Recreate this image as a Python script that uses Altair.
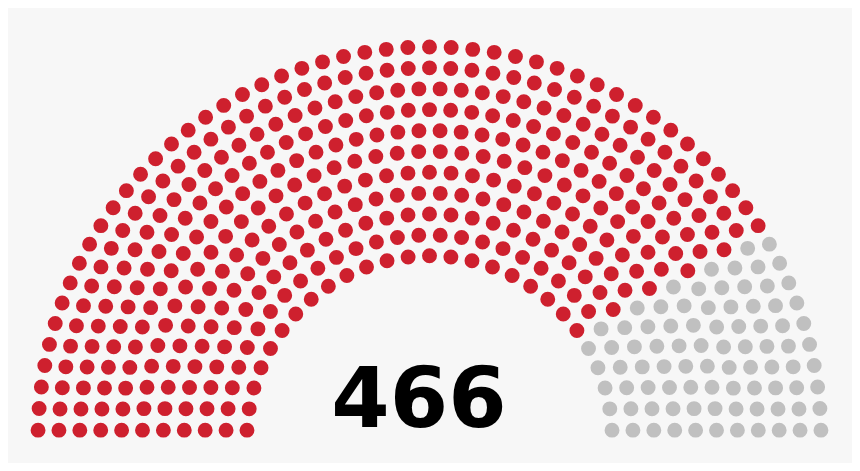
import math
import altair as alt
import pandas as pd

# Data: seats per party
parties = ["Majority", "Others"]
seats = [381, 85]
colors = ["#CE202E", "#C0C0C0"]
total_label = "466"

# Seat layout (parliament arch, 11 rows)
total = sum(seats)
Totals = [3, 15, 33, 61, 95, 138, 189, 247, 313, 388, 469, 559, 657]
rows = next(i + 1 for i, t in enumerate(Totals) if t >= total)
radius = 0.4 / rows
pos = []
for i in range(1, rows):
    R = (3.0 * rows + 4.0 * i - 2.0) / (4.0 * rows)
    J = int(float(total) / Totals[rows - 1] * math.pi / (2 * math.asin(2.0 / (3.0 * rows + 4.0 * i - 2.0))))
    for j in range(J):
        a = j * (math.pi - 2.0 * math.sin(radius / R)) / (J - 1.0) + math.sin(radius / R)
        pos.append((a, R * math.cos(a), R * math.sin(a)))
J = total - len(pos)
R = (7.0 * rows - 2.0) / (4.0 * rows)
for j in range(J):
    a = j * (math.pi - 2.0 * math.sin(radius / R)) / (J - 1.0) + math.sin(radius / R)
    pos.append((a, R * math.cos(a), R * math.sin(a)))
pos.sort(reverse=True)

party_col = []
for p, n in zip(parties, seats):
    party_col += [p] * n

cx, cy, s = 429.5, 438.5, 229.7
df = pd.DataFrame({
    "px": [cx + s * p[1] for p in pos],
    "py": [cy - s * p[2] for p in pos],
    "party": party_col,
})

W, H = 844, 455
xs = alt.Scale(domain=[8, 8 + W], nice=False, zero=False)
ys = alt.Scale(domain=[8, 8 + H], nice=False, zero=False, reverse=True)

dots = alt.Chart(df).mark_circle(size=222, opacity=1).encode(
    x=alt.X("px:Q", scale=xs, axis=None),
    y=alt.Y("py:Q", scale=ys, axis=None),
    color=alt.Color("party:N", scale=alt.Scale(domain=parties, range=colors), legend=None),
)

label = alt.Chart(pd.DataFrame({"px": [419], "py": [427], "t": [total_label]})).mark_text(
    font="DejaVu Sans", fontWeight="bold", fontSize=84, align="center", baseline="alphabetic", color="#000000"
).encode(
    x=alt.X("px:Q", scale=xs, axis=None),
    y=alt.Y("py:Q", scale=ys, axis=None),
    text="t:N",
)

chart = (dots + label).properties(
    width=W, height=H, padding=0, background="#F7F7F7",
    autosize=alt.AutoSizeParams(type="fit", contains="padding"),
).configure_view(stroke=None)

chart.save("out.html", embed_options={"renderer": "svg", "actions": False})
